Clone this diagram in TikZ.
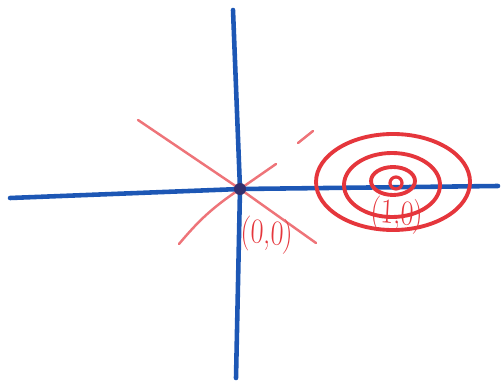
\documentclass[tikz,border=0pt]{standalone}
\usepackage{tikz}
\usepackage{xcolor}
\usetikzlibrary{arrows.meta,positioning,calc}
\definecolor{PenBlue}{HTML}{1D57B5}
\definecolor{PenRed}{HTML}{E5363C}
\definecolor{PaleRed}{HTML}{EE7479}
\definecolor{DotNavy}{HTML}{34306E}
\tikzset{
  axisline/.style={line width=2.6pt, draw=PenBlue, line cap=round, line join=round},
  sketchline/.style={line width=1.4pt, draw=PaleRed, line cap=round},
  ring/.style={line width=2.2pt, draw=PenRed},
  penlabel/.style={text=PenRed, font=\fontsize{16}{19}\selectfont, inner sep=0pt, yscale=1.25}
}
\begin{document}
\begin{tikzpicture}[x=0.02cm, y=-0.02cm]
\useasboundingbox (0,0) rectangle (502,381);
% axes
\coordinate (xleft) at (10,198);
\coordinate (xright) at (498,186);
\coordinate (ytop) at (233,10);
\coordinate (ybottom) at (236,378);
\coordinate (origin) at (240,189);
% lines through the origin
\coordinate (diagA1) at (138,120);
\coordinate (diagA2) at (316,243);
\coordinate (diagB1) at (179,244);
\coordinate (diagB2) at (276,164);
\coordinate (tick1) at (298,143);
\coordinate (tick2) at (313,131);
\draw[sketchline] (diagA1) -- (origin) -- (diagA2);
\draw[sketchline] (diagB1) to[bend left=8] (origin) -- (diagB2);
\draw[sketchline] (tick1) -- (tick2);
\draw[axisline] (xleft) -- (origin) -- (xright);
\draw[axisline] (ytop) -- (origin) -- (ybottom);
\fill[DotNavy] (origin) circle[radius=6];
\node[penlabel, rotate=-4] (zerolabel) at (267,235) {(0,0)};
% rings round (1,0)
\coordinate (target) at (396,183);
\draw[ring] (393,182) ellipse[x radius=77, y radius=48];
\draw[ring] (392,185) ellipse[x radius=48, y radius=32];
\draw[ring] (393,181) ellipse[x radius=22, y radius=14];
\draw[ring, line width=1.8pt] (target) circle[radius=6];
\node[penlabel, rotate=-4] (onelabel) at (397,215) {(1,0)};
\end{tikzpicture}
\end{document}
